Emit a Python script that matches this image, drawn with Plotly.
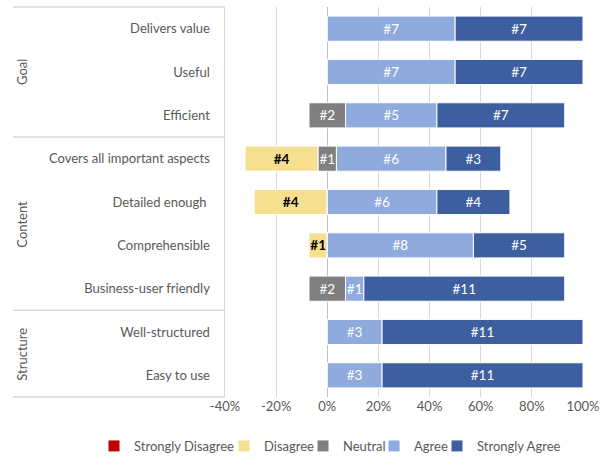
import plotly.graph_objects as go

categories = ["Delivers value", "Useful", "Efficient",
              "Covers all important aspects", "Detailed enough ", "Comprehensible",
              "Business-user friendly", "Well-structured", "Easy to use"]
groups = ["Goal", "Content", "Structure"]
group_sizes = [3, 4, 2]

strongly_disagree = [0, 0, 0, 0, 0, 0, 0, 0, 0]
disagree = [0, 0, 0, 4, 4, 1, 0, 0, 0]
neutral = [0, 0, 2, 1, 0, 0, 2, 0, 0]
agree = [7, 7, 5, 6, 6, 8, 1, 3, 3]
strongly_agree = [7, 7, 7, 3, 4, 5, 11, 11, 11]

tick_vals = [-0.4, -0.2, 0, 0.2, 0.4, 0.6, 0.8, 1.0]
tick_text = ["-40%", "-20%", "0%", "20%", "40%", "60%", "80%", "100%"]

colors = {
    "Strongly Disagree": "#C00000",
    "Disagree": "#F7DF90",
    "Neutral": "#7F7F7F",
    "Agree": "#8FAADC",
    "Strongly Agree": "#3D5F9F",
}

FONT = "Lato"
TXT = "#595959"

totals = [a + b + c + d + e for a, b, c, d, e in
          zip(strongly_disagree, disagree, neutral, agree, strongly_agree)]

def frac(vals):
    return [v / t for v, t in zip(vals, totals)]

n_half = [v / 2 for v in frac(neutral)]
d_f = frac(disagree)
sd_f = frac(strongly_disagree)
a_f = frac(agree)
sa_f = frac(strongly_agree)

segments = [
    ("Strongly Disagree", strongly_disagree, sd_f,
     [-(h + d + s) for h, d, s in zip(n_half, d_f, sd_f)], "white", False),
    ("Disagree", disagree, d_f, [-(h + d) for h, d in zip(n_half, d_f)], "black", True),
    ("Neutral", neutral, frac(neutral), [-h for h in n_half], "white", False),
    ("Agree", agree, a_f, n_half, "white", False),
    ("Strongly Agree", strongly_agree, sa_f, [h + a for h, a in zip(n_half, a_f)], "white", False),
]

W, H = 604, 456
L, R, T, B = 225, 21, 7, 59
pw = W - L - R

# legend text start positions (px)
legend_text_x = [134, 264, 343, 414, 477]

fig = go.Figure()
legend_layouts = {}
for i, (name, counts, widths, bases, tcol, bold) in enumerate(segments):
    texts = [("<b>#%d</b>" if bold else "#%d") % c if c > 0 else "" for c in counts]
    lname = "legend" if i == 0 else "legend%d" % (i + 1)
    fig.add_trace(go.Bar(
        name=name, y=categories, x=widths, base=bases, orientation="h",
        marker=dict(color=colors[name], line=dict(color="white", width=1)),
        text=texts, textposition="inside", insidetextanchor="middle",
        constraintext="none",
        textfont=dict(color=tcol, size=13.5, family=FONT),
        width=0.58, hoverinfo="skip", legend=lname,
    ))
    legend_layouts[lname] = dict(
        orientation="h", xref="container", yref="container",
        x=(legend_text_x[i] - 40) / W, xanchor="left",
        y=1 - 446 / H, yanchor="middle",
        font=dict(size=13, color=TXT, family=FONT),
        bgcolor="rgba(0,0,0,0)", itemwidth=30,
    )

shapes = []
n = len(categories)
cum = 0
lines_y = [1.0]
for s in group_sizes:
    cum += s
    lines_y.append(1 - cum / n)
for yv in lines_y:
    shapes.append(dict(type="line", xref="paper", yref="paper",
                       x0=(13 - L) / pw, x1=0, y0=yv, y1=yv,
                       line=dict(color="#D9D9D9", width=1.5)))

annotations = []
cum = 0
for g, s in zip(groups, group_sizes):
    mid = 1 - (cum + s / 2) / n
    cum += s
    annotations.append(dict(text=g, xref="paper", yref="paper",
                            x=(22 - L) / pw, y=mid, textangle=-90,
                            showarrow=False, xanchor="center", yanchor="middle",
                            font=dict(size=13, color=TXT, family=FONT)))

fig.update_layout(
    barmode="overlay",
    width=W, height=H,
    margin=dict(l=L, r=R, t=T, b=B, autoexpand=False),
    plot_bgcolor="white", paper_bgcolor="white",
    font=dict(family=FONT, size=13, color=TXT),
    showlegend=True,
    xaxis=dict(range=[-0.4, 1.0], tickvals=tick_vals, ticktext=tick_text,
               showgrid=True, gridcolor="#D9D9D9", gridwidth=1,
               zeroline=True, zerolinecolor="#BFBFBF", zerolinewidth=1.5,
               showline=False, ticks="", fixedrange=True, automargin=False,
               tickfont=dict(size=13, color=TXT, family=FONT)),
    yaxis=dict(categoryorder="array", categoryarray=categories,
               autorange="reversed", showgrid=False, ticks="",
               ticklabelstandoff=11, showline=True, linecolor="#D9D9D9",
               linewidth=1.5, automargin=False, fixedrange=True,
               tickfont=dict(size=13, color=TXT, family=FONT)),
    shapes=shapes,
    annotations=annotations,
    **legend_layouts,
)

fig.write_html("out.html",
               config={"displayModeBar": False, "staticPlot": True},
               post_script="document.body.style.margin='0';document.body.style.padding='0';")
